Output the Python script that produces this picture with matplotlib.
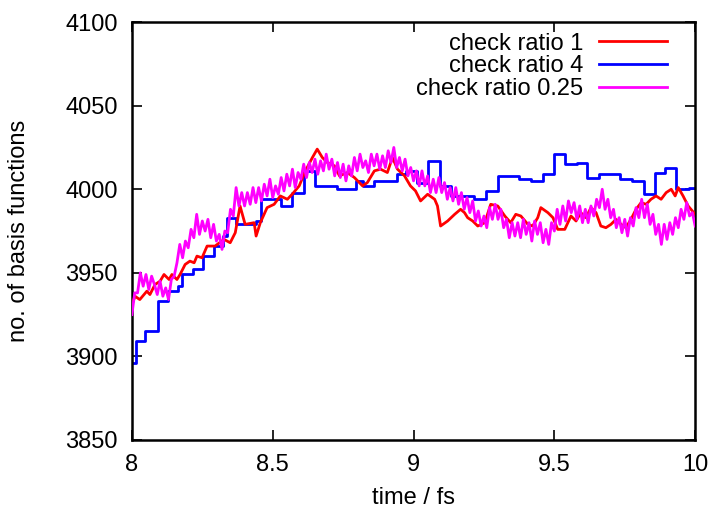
import numpy as np
import matplotlib
matplotlib.use("Agg")
import matplotlib.pyplot as plt

plt.rcParams['font.family'] = ['Liberation Sans', 'DejaVu Sans']

# check ratio 1 (red)
t_r1 = [8.000, 8.011, 8.028, 8.053, 8.064, 8.082, 8.100, 8.114, 8.132, 8.142,
        8.160, 8.171, 8.189, 8.206, 8.221, 8.231, 8.249, 8.267, 8.295, 8.327,
        8.349, 8.367, 8.384, 8.402, 8.434, 8.441, 8.456, 8.480, 8.505, 8.527,
        8.552, 8.569, 8.594, 8.616, 8.641, 8.658, 8.676, 8.694, 8.719, 8.737,
        8.765, 8.790, 8.819, 8.836, 8.861, 8.883, 8.907, 8.925, 8.943, 8.968,
        8.989, 9.007, 9.025, 9.050, 9.075, 9.085, 9.096, 9.121, 9.146, 9.167,
        9.181, 9.192, 9.210, 9.228, 9.253, 9.274, 9.299, 9.324, 9.345, 9.363,
        9.381, 9.406, 9.423, 9.441, 9.452, 9.477, 9.495, 9.512, 9.537, 9.559,
        9.577, 9.594, 9.612, 9.630, 9.648, 9.665, 9.683, 9.701, 9.719, 9.737,
        9.754, 9.772, 9.790, 9.808, 9.826, 9.843, 9.861, 9.879, 9.897, 9.915,
        9.929, 9.940, 9.957, 9.975, 10.000]
n_r1 = [3931, 3936, 3934, 3939, 3937, 3943, 3945, 3949, 3946, 3949,
        3946, 3949, 3955, 3957, 3956, 3960, 3959, 3966, 3966, 3970,
        3968, 3974, 3990, 3979, 3980, 3972, 3980, 3989, 3991, 3996,
        3994, 3997, 4002, 4011, 4019, 4024, 4019, 4016, 4014, 4008,
        4010, 4007, 4002, 4004, 4011, 4012, 4010, 4019, 4012, 4008,
        4002, 3999, 3993, 3997, 3994, 3990, 3978, 3981, 3985, 3988,
        3986, 3983, 3981, 3978, 3980, 3991, 3990, 3984, 3980, 3985,
        3984, 3979, 3978, 3983, 3989, 3986, 3983, 3976, 3976, 3984,
        3981, 3986, 3983, 3989, 3986, 3978, 3977, 3979, 3982, 3979,
        3977, 3982, 3988, 3992, 3991, 3994, 3996, 3994, 3998, 4000,
        3996, 4001, 3996, 3990, 3985]

# check ratio 4 (blue), value changes
t_r4 = [8.000, 8.014, 8.046, 8.093, 8.128, 8.164, 8.178, 8.217, 8.253, 8.292,
        8.324, 8.338, 8.370, 8.441, 8.459, 8.530, 8.569, 8.612, 8.651, 8.730,
        8.794, 8.822, 8.858, 8.940, 8.975, 9.011, 9.053, 9.093, 9.132, 9.214,
        9.256, 9.299, 9.374, 9.416, 9.459, 9.498, 9.537, 9.580, 9.616, 9.658,
        9.733, 9.776, 9.819, 9.858, 9.893, 9.932, 9.979, 10.000]
n_r4 = [3896, 3909, 3915, 3933, 3939, 3942, 3949, 3952, 3960, 3966,
        3972, 3983, 3979, 3981, 3994, 3990, 3998, 4011, 4002, 4000,
        4005, 4002, 4005, 4009, 4011, 4004, 4017, 4002, 3996, 3994,
        3999, 4008, 4006, 4005, 4009, 4021, 4015, 4016, 4007, 4009,
        4006, 4005, 3997, 4010, 4013, 4000, 4001, 4001]

# check ratio 0.25 (magenta), sampled every 0.01 fs
t_r025 = np.linspace(8.0, 10.0, 201)
n_r025 = [3925, 3938, 3938, 3950, 3942, 3949, 3940, 3948, 3943, 3937,
          3945, 3936, 3941, 3934, 3946, 3948, 3956, 3967, 3959, 3969,
          3965, 3976, 3971, 3985, 3973, 3981, 3975, 3982, 3971, 3979,
          3969, 3973, 3964, 3975, 3974, 3988, 3984, 4001, 3990, 3998,
          3990, 3998, 3991, 4001, 3992, 4001, 3993, 4003, 3996, 4006,
          3995, 4002, 3997, 4007, 3999, 4009, 4002, 4012, 4001, 4010,
          4006, 4015, 4007, 4016, 4010, 4018, 4009, 4017, 4011, 4021,
          4012, 4018, 4008, 4016, 4007, 4015, 4005, 4014, 4008, 4019,
          4011, 4021, 4013, 4017, 4010, 4021, 4014, 4021, 4012, 4020,
          4013, 4023, 4016, 4025, 4013, 4019, 4011, 4018, 4008, 4013,
          4005, 4011, 4002, 4011, 4002, 4008, 3998, 4006, 3998, 4007,
          3998, 4004, 3994, 4001, 3993, 4001, 3991, 3998, 3988, 3995,
          3986, 3993, 3981, 3987, 3978, 3984, 3977, 3989, 3982, 3991,
          3982, 3988, 3977, 3982, 3971, 3980, 3972, 3980, 3971, 3982,
          3973, 3980, 3969, 3981, 3973, 3980, 3968, 3976, 3967, 3980,
          3975, 3988, 3979, 3990, 3981, 3993, 3986, 3992, 3982, 3990,
          3980, 3988, 3980, 3990, 3984, 3994, 3989, 4000, 3988, 3994,
          3983, 3988, 3977, 3983, 3974, 3982, 3972, 3983, 3978, 3989,
          3983, 3994, 3983, 3991, 3979, 3985, 3973, 3979, 3967, 3979,
          3970, 3980, 3973, 3983, 3977, 3988, 3982, 3992, 3984, 3986,
          3978]

fig = plt.figure(figsize=(7.13, 5.09), dpi=100)
ax = fig.add_axes([0.185, 0.1356, 0.790, 0.821])

ax.plot(t_r1, n_r1, color='#ff0000', lw=2, label='check ratio 1', zorder=3)
ax.plot(t_r4, n_r4, color='#0000ff', lw=2, drawstyle='steps-post',
        label='check ratio 4', zorder=2)
ax.plot(t_r025, n_r025, color='#ff00ff', lw=2, label='check ratio 0.25', zorder=4)

ax.set_xlim(8, 10)
ax.set_ylim(3850, 4100)
ax.set_xticks([8, 8.5, 9, 9.5, 10])
ax.set_xticklabels(['8', '8.5', '9', '9.5', '10'])
ax.set_yticks([3850, 3900, 3950, 4000, 4050, 4100])
ax.tick_params(direction='in', length=7, width=1.2, top=True, right=True,
               labelsize=17, pad=10)
for s in ax.spines.values():
    s.set_linewidth(1.8)

ax.set_xlabel('time / fs', fontsize=17)
ax.xaxis.set_label_coords(0.5, -0.113)
ax.set_ylabel('no. of basis functions', fontsize=17)
ax.yaxis.set_label_coords(-0.181, 0.5)

ax.legend(loc='upper right', bbox_to_anchor=(0.950, 0.975), frameon=False,
          markerfirst=False, fontsize=17, handlelength=2.9, handletextpad=0.64,
          labelspacing=0.04, borderaxespad=0, borderpad=0)

fig.savefig('out.png', dpi=100)
